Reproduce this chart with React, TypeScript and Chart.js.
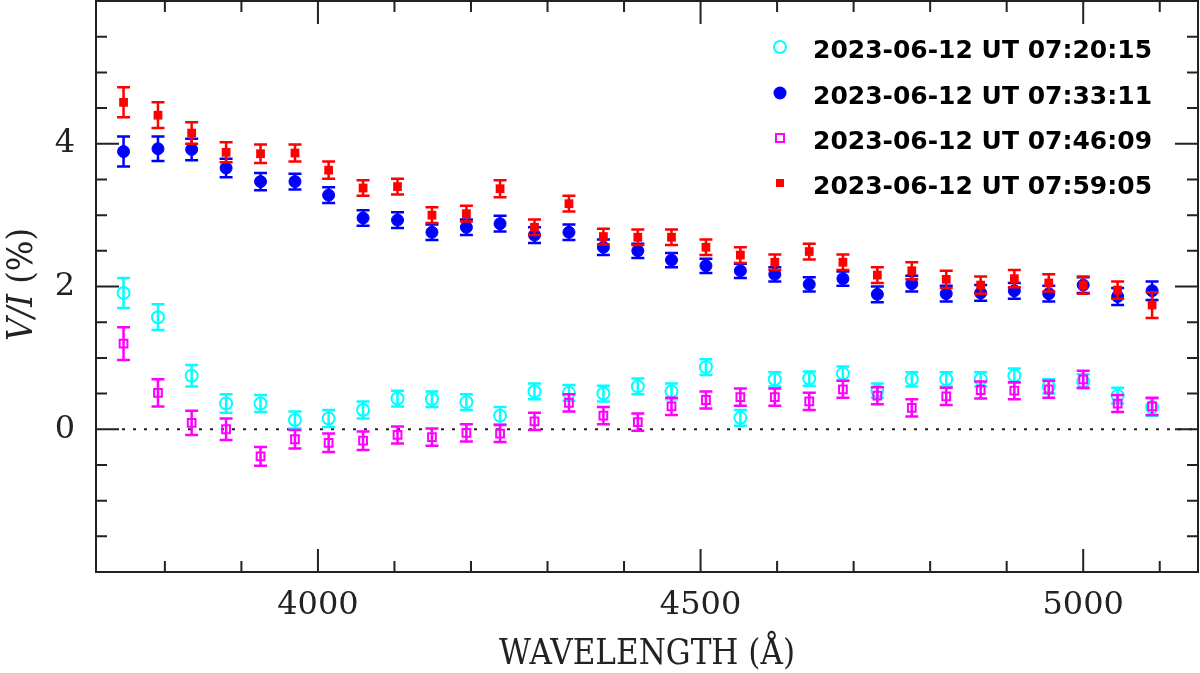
import { useEffect, useRef } from "react"
import { Chart, registerables } from "chart.js"

Chart.register(...registerables)

// Wavelength bins (Å)
const wavelengths = [
  3746, 3791, 3835, 3880, 3925, 3970, 4014, 4059, 4104, 4149, 4194, 4238, 4283, 4328, 4373, 4418,
  4462, 4507, 4552, 4597, 4642, 4686, 4731, 4776, 4821, 4866, 4910, 4955, 5000, 5045, 5090,
]

const seriesLabels = [
  "2023-06-12 UT 07:20:15",
  "2023-06-12 UT 07:33:11",
  "2023-06-12 UT 07:46:09",
  "2023-06-12 UT 07:59:05",
]

// V/I (%) and 1-sigma errors per epoch
const vi072015 = [
  1.91, 1.57, 0.75, 0.36, 0.36, 0.13, 0.15, 0.27, 0.43, 0.42, 0.38, 0.19, 0.53, 0.51, 0.5, 0.6,
  0.53, 0.87, 0.16, 0.7, 0.71, 0.78, 0.54, 0.7, 0.7, 0.7, 0.75, 0.6, 0.67, 0.47, 0.31,
]
const err072015 = [
  0.21, 0.18, 0.15, 0.13, 0.12, 0.12, 0.12, 0.12, 0.11, 0.11, 0.11, 0.12, 0.11, 0.11, 0.11, 0.11,
  0.11, 0.11, 0.11, 0.1, 0.1, 0.1, 0.1, 0.1, 0.1, 0.1, 0.1, 0.1, 0.1, 0.11, 0.12,
]

const vi073311 = [
  3.89, 3.93, 3.92, 3.66, 3.47, 3.47, 3.28, 2.96, 2.93, 2.76, 2.83, 2.88, 2.72, 2.76, 2.55, 2.5,
  2.37, 2.29, 2.22, 2.17, 2.03, 2.11, 1.89, 2.04, 1.9, 1.91, 1.94, 1.9, 2.02, 1.86, 1.94,
]
const err073311 = [
  0.21, 0.17, 0.15, 0.13, 0.12, 0.11, 0.11, 0.11, 0.11, 0.11, 0.11, 0.11, 0.11, 0.11, 0.11, 0.1,
  0.1, 0.1, 0.1, 0.1, 0.1, 0.1, 0.11, 0.11, 0.11, 0.11, 0.11, 0.11, 0.11, 0.12, 0.13,
]

const vi074609 = [
  1.2, 0.51, 0.09, 0.0, -0.38, -0.14, -0.19, -0.16, -0.08, -0.11, -0.05, -0.06, 0.11, 0.37, 0.19,
  0.1, 0.32, 0.41, 0.45, 0.45, 0.39, 0.56, 0.47, 0.3, 0.46, 0.55, 0.54, 0.56, 0.7, 0.36, 0.32,
]
const err074609 = [
  0.23, 0.19, 0.17, 0.15, 0.13, 0.13, 0.13, 0.13, 0.12, 0.12, 0.12, 0.12, 0.12, 0.12, 0.12, 0.12,
  0.12, 0.12, 0.12, 0.12, 0.12, 0.12, 0.12, 0.12, 0.12, 0.12, 0.12, 0.12, 0.12, 0.12, 0.12,
]

const vi075905 = [
  4.58, 4.4, 4.15, 3.88, 3.86, 3.87, 3.63, 3.38, 3.4, 3.0, 3.02, 3.37, 2.83, 3.16, 2.7, 2.69, 2.69,
  2.55, 2.44, 2.34, 2.49, 2.34, 2.16, 2.22, 2.1, 2.02, 2.11, 2.05, 2.02, 1.95, 1.74,
]
const err075905 = [
  0.21, 0.18, 0.15, 0.14, 0.13, 0.12, 0.12, 0.11, 0.11, 0.11, 0.11, 0.12, 0.11, 0.11, 0.11, 0.11,
  0.11, 0.11, 0.11, 0.11, 0.11, 0.11, 0.11, 0.12, 0.12, 0.12, 0.12, 0.12, 0.12, 0.12, 0.18,
]

const xTickValues = [4000, 4500, 5000]
const yTickValues = [0, 2, 4]

const INK = "#222"

type Marker = "openCircle" | "circle" | "openSquare" | "square"

const series: { values: number[]; errors: number[]; color: string; marker: Marker }[] = [
  { values: vi072015, errors: err072015, color: "#00ffff", marker: "openCircle" },
  { values: vi073311, errors: err073311, color: "#0000ff", marker: "circle" },
  { values: vi074609, errors: err074609, color: "#ff00ff", marker: "openSquare" },
  { values: vi075905, errors: err075905, color: "#ff0000", marker: "square" },
]

function drawMarker(ctx: CanvasRenderingContext2D, marker: Marker, color: string, x: number, y: number) {
  ctx.save()
  ctx.strokeStyle = color
  ctx.fillStyle = color
  ctx.lineWidth = 2
  ctx.beginPath()
  if (marker === "openCircle") {
    ctx.arc(x, y, 6, 0, Math.PI * 2)
    ctx.stroke()
  } else if (marker === "circle") {
    ctx.arc(x, y, 6.5, 0, Math.PI * 2)
    ctx.fill()
  } else if (marker === "openSquare") {
    ctx.rect(x - 4, y - 4, 8, 8)
    ctx.stroke()
  } else {
    ctx.rect(x - 4, y - 4, 8, 8)
    ctx.fill()
  }
  ctx.restore()
}

const decorPlugin = {
  id: "decor",
  beforeDatasetsDraw(chart: any) {
    const { ctx, chartArea, scales } = chart
    const y0 = scales.y.getPixelForValue(0)
    ctx.save()
    ctx.strokeStyle = INK
    ctx.lineWidth = 2
    ctx.setLineDash([3, 8])
    ctx.beginPath()
    ctx.moveTo(chartArea.left + 26, y0)
    ctx.lineTo(chartArea.right, y0)
    ctx.stroke()
    ctx.restore()
  },
  beforeDatasetDraw(chart: any, args: any) {
    const s = series[args.index]
    if (!s) return
    const { ctx, scales } = chart
    ctx.save()
    ctx.strokeStyle = s.color
    ctx.lineWidth = 2.5
    s.values.forEach((v, i) => {
      const x = scales.x.getPixelForValue(wavelengths[i])
      const yt = scales.y.getPixelForValue(v + s.errors[i])
      const yb = scales.y.getPixelForValue(v - s.errors[i])
      ctx.beginPath()
      ctx.moveTo(x, yt)
      ctx.lineTo(x, yb)
      ctx.moveTo(x - 6.5, yt)
      ctx.lineTo(x + 6.5, yt)
      ctx.moveTo(x - 6.5, yb)
      ctx.lineTo(x + 6.5, yb)
      ctx.stroke()
    })
    ctx.restore()
  },
  afterDraw(chart: any) {
    const { ctx, chartArea, scales } = chart
    const { left, right, top, bottom } = chartArea
    ctx.save()
    ctx.strokeStyle = INK
    ctx.lineWidth = 2
    ctx.strokeRect(left, top, right - left, bottom - top)

    // ticks on all four sides, pointing inward
    ctx.beginPath()
    for (let w = 3800; w <= 5100; w += 100) {
      const x = scales.x.getPixelForValue(w)
      const len = w % 500 === 0 ? 23 : 11
      ctx.moveTo(x, bottom)
      ctx.lineTo(x, bottom - len)
      ctx.moveTo(x, top)
      ctx.lineTo(x, top + len)
    }
    for (let k = -3; k <= 11; k++) {
      const v = k * 0.5
      const y = scales.y.getPixelForValue(v)
      const len = k % 4 === 0 ? 23 : 11
      ctx.moveTo(left, y)
      ctx.lineTo(left + len, y)
      ctx.moveTo(right, y)
      ctx.lineTo(right - len, y)
    }
    ctx.stroke()

    // axis titles
    ctx.fillStyle = INK
    ctx.textBaseline = "alphabetic"
    ctx.font = "35px 'DejaVu Serif'"
    const xt = "WAVELENGTH (Å)"
    const xw = ctx.measureText(xt).width
    ctx.save()
    ctx.translate((left + right) / 2, 664)
    ctx.scale(296 / xw, 1)
    ctx.textAlign = "left"
    ctx.fillText(xt, -xw / 2, 0)
    ctx.restore()

    ctx.save()
    ctx.translate(32, (top + bottom) / 2 - 2)
    ctx.rotate(-Math.PI / 2)
    ctx.font = "italic 36px 'DejaVu Serif'"
    const w1 = ctx.measureText("V/I").width
    ctx.font = "36px 'DejaVu Serif'"
    const w2 = ctx.measureText(" (%)").width
    const tot = w1 + w2
    ctx.scale(113 / tot, 1)
    ctx.textAlign = "left"
    ctx.font = "italic 36px 'DejaVu Serif'"
    ctx.fillText("V/I", -tot / 2, 0)
    ctx.font = "36px 'DejaVu Serif'"
    ctx.fillText(" (%)", -tot / 2 + w1, 0)
    ctx.restore()

    // legend
    const rows = [47, 93, 138, 183]
    ctx.font = "bold 25px 'DejaVu Sans'"
    ctx.fillStyle = "#000"
    ctx.textAlign = "left"
    series.forEach((s, i) => {
      drawMarker(ctx, s.marker, s.color, 780, rows[i])
      ctx.fillText(seriesLabels[i], 813, rows[i] + 11)
    })
    ctx.restore()
  },
}

export default function App() {
  const canvasRef = useRef<HTMLCanvasElement>(null)
  const chartRef = useRef<Chart | null>(null)

  useEffect(() => {
    document.body.style.margin = "0"
    if (!canvasRef.current) return
    if (chartRef.current) chartRef.current.destroy()

    const styleFor = (m: Marker, color: string) => {
      if (m === "openCircle")
        return { pointStyle: "circle", pointRadius: 6, pointBorderWidth: 2, pointBackgroundColor: "rgba(0,0,0,0)", pointBorderColor: color }
      if (m === "circle")
        return { pointStyle: "circle", pointRadius: 6, pointBorderWidth: 1, pointBackgroundColor: color, pointBorderColor: color }
      if (m === "openSquare")
        return { pointStyle: "rect", pointRadius: 5.5, pointBorderWidth: 2, pointBackgroundColor: "rgba(0,0,0,0)", pointBorderColor: color }
      return { pointStyle: "rect", pointRadius: 6.2, pointBorderWidth: 0, pointBackgroundColor: color, pointBorderColor: color }
    }

    const noPadding = (scale: any) => {
      scale.paddingTop = 0
      scale.paddingBottom = 0
      scale.paddingLeft = 0
      scale.paddingRight = 0
    }

    chartRef.current = new Chart(canvasRef.current, {
      type: "scatter",
      data: {
        datasets: series.map((s, i) => ({
          label: seriesLabels[i],
          data: wavelengths.map((w, j) => ({ x: w, y: s.values[j] })),
          showLine: false,
          order: series.length - i,
          ...styleFor(s.marker, s.color),
        })) as any,
      },
      options: {
        animation: false,
        responsive: true,
        maintainAspectRatio: false,
        layout: { autoPadding: false, padding: { top: 1, right: 2, left: 0, bottom: 0 } },
        plugins: {
          legend: { display: false },
          tooltip: { enabled: false },
          title: { display: false },
        },
        scales: {
          x: {
            type: "linear",
            min: 3710,
            max: 5150,
            grid: { display: false, drawTicks: false },
            border: { display: false },
            afterBuildTicks: (scale: any) => {
              scale.ticks = xTickValues.map((v) => ({ value: v }))
            },
            afterFit: (scale: any) => {
              scale.height = 101
              noPadding(scale)
            },
            ticks: {
              autoSkip: false,
              maxRotation: 0,
              padding: 14,
              color: INK,
              font: { family: "'DejaVu Serif'", size: 32 },
              callback: (v: any) => `${v}`,
            },
          },
          y: {
            type: "linear",
            min: -2,
            max: 6,
            grid: { display: false, drawTicks: false },
            border: { display: false },
            afterBuildTicks: (scale: any) => {
              scale.ticks = yTickValues.map((v) => ({ value: v }))
            },
            afterFit: (scale: any) => {
              scale.width = 96
              noPadding(scale)
            },
            ticks: {
              padding: 21,
              color: INK,
              font: { family: "'DejaVu Serif'", size: 32 },
              callback: (v: any) => `${v}`,
            },
          },
        },
      },
      plugins: [decorPlugin],
    })

    return () => {
      if (chartRef.current) {
        chartRef.current.destroy()
        chartRef.current = null
      }
    }
  }, [])

  return (
    <div style={{ width: 1200, height: 673, position: "relative", background: "#fff" }}>
      <canvas ref={canvasRef}></canvas>
    </div>
  )
}
